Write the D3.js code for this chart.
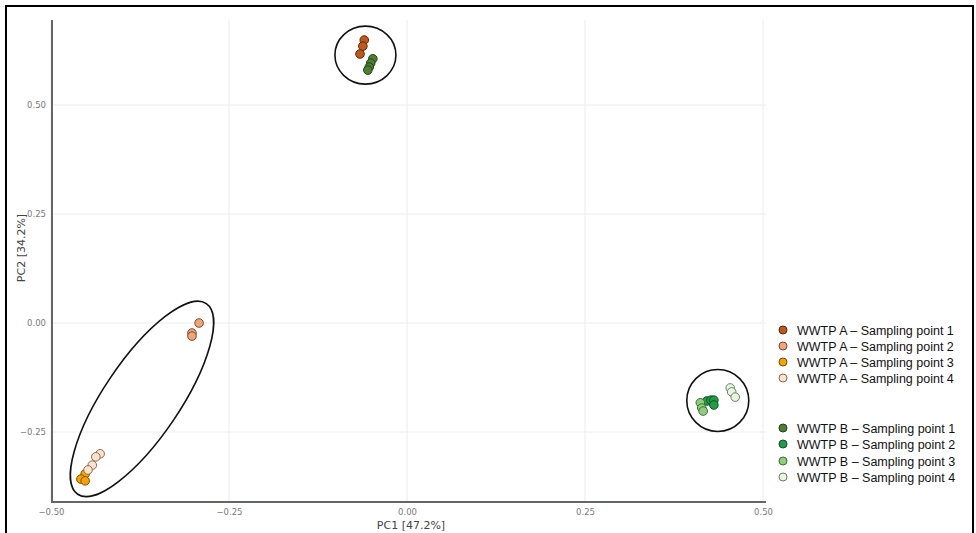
<!DOCTYPE html>
<html><head><meta charset="utf-8">
<script src="https://cdn.jsdelivr.net/npm/d3@7"></script>
<style>body{margin:0;background:#fff}svg{display:block}</style>
</head><body><svg id="c" width="976" height="533"></svg>
<script>
// ---- data ----
const groups = ["WWTP A – Sampling point 1","WWTP A – Sampling point 2","WWTP A – Sampling point 3","WWTP A – Sampling point 4",
                "WWTP B – Sampling point 1","WWTP B – Sampling point 2","WWTP B – Sampling point 3","WWTP B – Sampling point 4"];
const colors = ["#c2571a","#f2a477","#f5a300","#fde3cc","#4d8030","#1f9d45","#8fcf7c","#e9f6df"];
const strokes = ["#5a2a0c","#7a4a30","#7a5000","#8a6a55","#26401a","#10502a","#3f6a35","#6a806a"];
const pcA1 = [[-0.060,0.649],[-0.062,0.635],[-0.066,0.617]];
const pcA2 = [[-0.292,0.000],[-0.302,-0.023],[-0.302,-0.030]];
const pcA3 = [[-0.452,-0.346],[-0.458,-0.358],[-0.452,-0.362]];
const pcA4 = [[-0.431,-0.300],[-0.437,-0.307],[-0.442,-0.326],[-0.448,-0.337]];
const pcB1 = [[-0.048,0.606],[-0.051,0.596],[-0.053,0.587],[-0.055,0.580]];
const pcB2 = [[0.421,-0.179],[0.427,-0.177],[0.431,-0.177],[0.431,-0.188]];
const pcB3 = [[0.412,-0.183],[0.414,-0.195],[0.416,-0.202]];
const pcB4 = [[0.454,-0.149],[0.456,-0.158],[0.461,-0.170]];
const series = [pcA1,pcA2,pcA3,pcA4,pcB1,pcB2,pcB3,pcB4];
const ticks = [-0.5,-0.25,0,0.25,0.5];
const xLabel = "PC1 [47.2%]", yLabel = "PC2 [34.2%]";

// ---- layout ----
const svg = d3.select("#c");
const x = d3.scaleLinear().domain([-0.5,0.5]).range([51,763]);
const y = d3.scaleLinear().domain([0,0.5]).range([323,105]);
const xMin=51, xMax=766, yTop=20, yBot=502;

svg.append("rect").attr("x",6).attr("y",6).attr("width",967).attr("height",540)
  .attr("fill","none").attr("stroke","#000").attr("stroke-width",2);

// grid
const g = svg.append("g");
g.selectAll("line.vx").data(ticks).join("line").attr("x1",d=>x(d)).attr("x2",d=>x(d))
  .attr("y1",yTop).attr("y2",yBot).attr("stroke","#ececec");
const yt = [-0.25,0,0.25,0.5];
g.selectAll("line.hy").data(yt).join("line").attr("y1",d=>y(d)).attr("y2",d=>y(d))
  .attr("x1",xMin).attr("x2",xMax).attr("stroke","#ececec");

// axes
const xa = svg.append("g").attr("transform",`translate(0,${yBot})`)
  .call(d3.axisBottom(x).tickValues(ticks).tickFormat(d3.format(".2f")).tickSize(0).tickPadding(7));
xa.select(".domain").remove();
const ya = svg.append("g").attr("transform",`translate(${xMin},0)`)
  .call(d3.axisLeft(y).tickValues(yt).tickFormat(d3.format(".2f")).tickSize(0).tickPadding(5));
ya.select(".domain").remove();
svg.selectAll(".tick text").attr("font-family","DejaVu Sans").attr("font-size","8.5px").attr("fill","#7a7a7a");
svg.append("line").attr("x1",xMin).attr("x2",xMax).attr("y1",yBot).attr("y2",yBot).attr("stroke","#666").attr("stroke-width",2);
svg.append("line").attr("x1",xMin+1).attr("x2",xMin+1).attr("y1",yTop).attr("y2",yBot).attr("stroke","#666").attr("stroke-width",2);

svg.append("text").attr("x",411).attr("y",529).attr("text-anchor","middle")
  .attr("font-family","DejaVu Sans").attr("font-size","11px").attr("fill","#444").text(xLabel);
svg.append("text").attr("transform","translate(25,248) rotate(-90)").attr("text-anchor","middle")
  .attr("font-family","DejaVu Sans").attr("font-size","11px").attr("fill","#444").text(yLabel);

// cluster outlines (centered on the middle of each cluster's extent)
function center(arrs){const all=arrs.flat();
  const ex=d3.extent(all,d=>x(d[0])), ey=d3.extent(all,d=>y(d[1]));
  return [(ex[0]+ex[1])/2,(ey[0]+ey[1])/2];}
const outlines = [
  {c:center([pcA1,pcB1]), rx:30.5, ry:29, rot:0, dx:-1, dy:0},
  {c:center([pcA2,pcA3,pcA4]), rx:115, ry:38, rot:-56, dx:2, dy:-3},
  {c:center([pcB2,pcB3,pcB4]), rx:31, ry:31, rot:0, dx:0, dy:1}
];
svg.selectAll("ellipse.o").data(outlines).join("ellipse")
  .attr("transform",d=>`translate(${d.c[0]+d.dx},${d.c[1]+d.dy}) rotate(${d.rot})`)
  .attr("rx",d=>d.rx).attr("ry",d=>d.ry).attr("fill","none").attr("stroke","#111").attr("stroke-width",1.6);

// points
series.forEach((s,i)=>{
  svg.append("g").selectAll("circle").data(s).join("circle")
    .attr("cx",d=>x(d[0])).attr("cy",d=>y(d[1])).attr("r",4.3)
    .attr("fill",colors[i]).attr("stroke",strokes[i]).attr("stroke-width",1);
});

// legend
const ly = [330,346,362,378,428,444,461,477];
const lg = svg.append("g");
groups.forEach((name,i)=>{
  lg.append("circle").attr("cx",783).attr("cy",ly[i]).attr("r",4).attr("fill",colors[i]).attr("stroke",strokes[i]).attr("stroke-width",1);
  lg.append("text").attr("x",797).attr("y",ly[i]+4.5).attr("font-family","Liberation Sans, Arial").attr("font-size","12.5px").attr("fill","#111").text(name);
});
</script></body></html>
